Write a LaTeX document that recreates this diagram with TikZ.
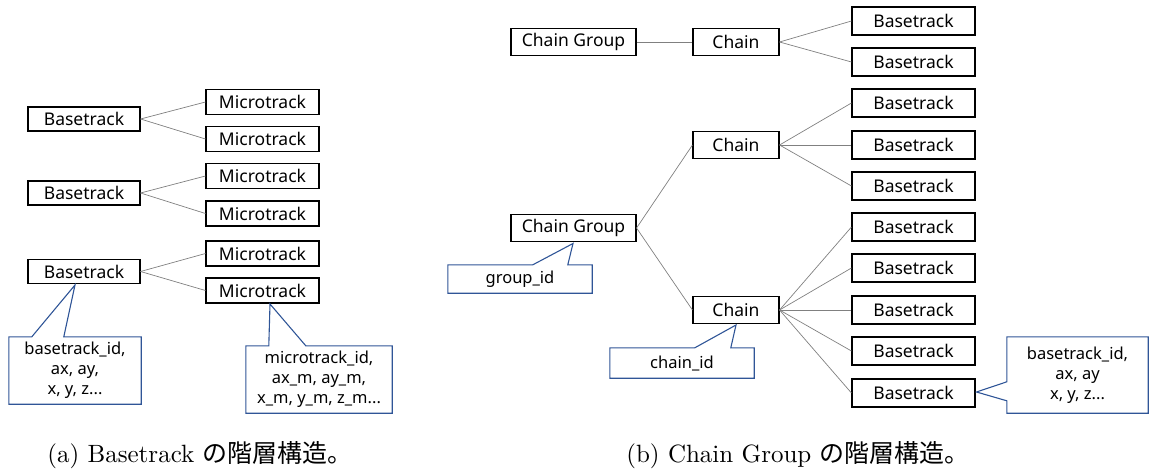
\documentclass[tikz,border=0pt]{standalone}
\usepackage{fontspec}
\newfontfamily\boxfont{Noto Sans}
\newfontfamily\jpfont{Noto Sans CJK JP}
\newfontfamily\capfont{lmroman10-regular}[Extension=.otf]
\definecolor{calloutblue}{RGB}{47,85,151}
\definecolor{linkgray}{RGB}{128,128,128}
\tikzset{
  tbox/.style={draw=black, line width=1.1pt, inner sep=0pt,
    font=\boxfont\fontsize{17.5}{20}\selectfont},
  bt/.style={tbox, minimum width=112pt, minimum height=24pt},
  mt/.style={tbox, minimum width=113pt, minimum height=25pt},
  cg/.style={tbox, minimum width=125pt, minimum height=27pt},
  ch/.style={tbox, minimum width=86pt, minimum height=27pt},
  bb/.style={tbox, minimum width=123pt, minimum height=28pt},
  link/.style={draw=linkgray, line width=0.7pt},
  callout/.style={draw=calloutblue, line width=1.1pt, line join=miter},
  calltext/.style={inner sep=0pt, align=center,
    font=\boxfont\fontsize{16.5}{20}\selectfont},
  caption/.style={inner sep=0pt, font=\capfont\fontsize{25}{28}\selectfont}
}
\begin{document}
\begin{tikzpicture}[x=1pt, y=-1pt]
\useasboundingbox (0,0) rectangle (1152,474);

% ---- (a) Basetrack hierarchy ----
\node[bt] (b1) at (84,119) {Basetrack};
\node[mt] (m11) at (262.5,102) {Microtrack};
\node[mt] (m12) at (262.5,139) {Microtrack};
\node[bt] (b2) at (84,193) {Basetrack};
\node[mt] (m21) at (262.5,176) {Microtrack};
\node[mt] (m22) at (262.5,213.5) {Microtrack};
\node[bt] (b3) at (84,271.5) {Basetrack};
\node[mt] (m31) at (262.5,253.5) {Microtrack};
\node[mt] (m32) at (262.5,290.5) {Microtrack};
\foreach \b/\m in {b1/m11,b1/m12,b2/m21,b2/m22,b3/m31,b3/m32}
  \draw[link] (\b.east) -- (\m.west);

% basetrack callout
\node[calltext, minimum width=132pt, minimum height=67pt] (c1) at (75,370.5)
  {basetrack\_id,\\ax, ay,\\x, y, z...};
\coordinate (c1tip) at (75,285);
\draw[callout] (c1.north west) -- ++(23,0) -- (c1tip) -- ([xshift=55pt]c1.north west)
  -- (c1.north east) -- (c1.south east) -- (c1.south west) -- cycle;

% microtrack callout
\node[calltext, minimum width=146pt, minimum height=67pt] (c2) at (319,379.5)
  {microtrack\_id,\\ax\_m, ay\_m,\\x\_m, y\_m, z\_m...};
\coordinate (c2tip) at (270,304);
\draw[callout] (c2.north west) -- ++(23,0) -- (c2tip) -- ([xshift=60pt]c2.north west)
  -- (c2.north east) -- (c2.south east) -- (c2.south west) -- cycle;

% ---- (b) Chain Group hierarchy ----
% single chain
\node[cg] (g1) at (573.5,42) {Chain Group};
\node[ch] (h1) at (736,42) {Chain};
\node[bb] (t1) at (913.5,21) {Basetrack};
\node[bb] (t2) at (913.5,62) {Basetrack};
\draw[link] (g1.east) -- (h1.west);
\draw[link] (h1.east) -- (t1.west);
\draw[link] (h1.east) -- (t2.west);

% two chains
\node[cg] (g2) at (573.5,228) {Chain Group};
\node[ch] (h2) at (736,145) {Chain};
\node[ch] (h3) at (736,310) {Chain};
\draw[link] (g2.east) -- (h2.west);
\draw[link] (g2.east) -- (h3.west);
\foreach \i/\y in {1/103,2/145,3/186}{
  \node[bb] (u\i) at (913.5,\y) {Basetrack};
  \draw[link] (h2.east) -- (u\i.west);
}
\foreach \i/\y in {1/227,2/268,3/310,4/351,5/393}{
  \node[bb] (l\i) at (913.5,\y) {Basetrack};
  \draw[link] (h3.east) -- (l\i.west);
}

% group_id callout
\node[calltext, minimum width=144pt, minimum height=28pt] (c3) at (520,279) {group\_id};
\coordinate (c3tip) at (573,243.5);
\draw[callout] (c3.north west) -- ++(85,0) -- (c3tip) -- ([xshift=120pt]c3.north west)
  -- (c3.north east) -- (c3.south east) -- (c3.south west) -- cycle;

% chain_id callout
\node[calltext, minimum width=144pt, minimum height=30pt] (c4) at (682,363) {chain\_id};
\coordinate (c4tip) at (736,325);
\draw[callout] (c4.north west) -- ++(85,0) -- (c4tip) -- ([xshift=121pt]c4.north west)
  -- (c4.north east) -- (c4.south east) -- (c4.south west) -- cycle;

% basetrack callout (right)
\node[calltext, minimum width=141pt, minimum height=76pt] (c5) at (1077.5,375)
  {basetrack\_id,\\ax, ay\\x, y, z...};
\coordinate (c5tip) at (976.5,392);
\draw[callout] (c5.north west) -- (c5.north east) -- (c5.south east) -- (c5.south west)
  -- ([yshift=-64pt]c5.north west) -- (c5tip) -- ([yshift=-45pt]c5.north west) -- cycle;

% ---- captions ----
\node[caption, anchor=base] (capa) at (200,462) {(a) Basetrack {\jpfont の階層構造。}};
\node[caption, anchor=base] (capb) at (798,462) {(b) Chain Group {\jpfont の階層構造。}};
\end{tikzpicture}
\end{document}
